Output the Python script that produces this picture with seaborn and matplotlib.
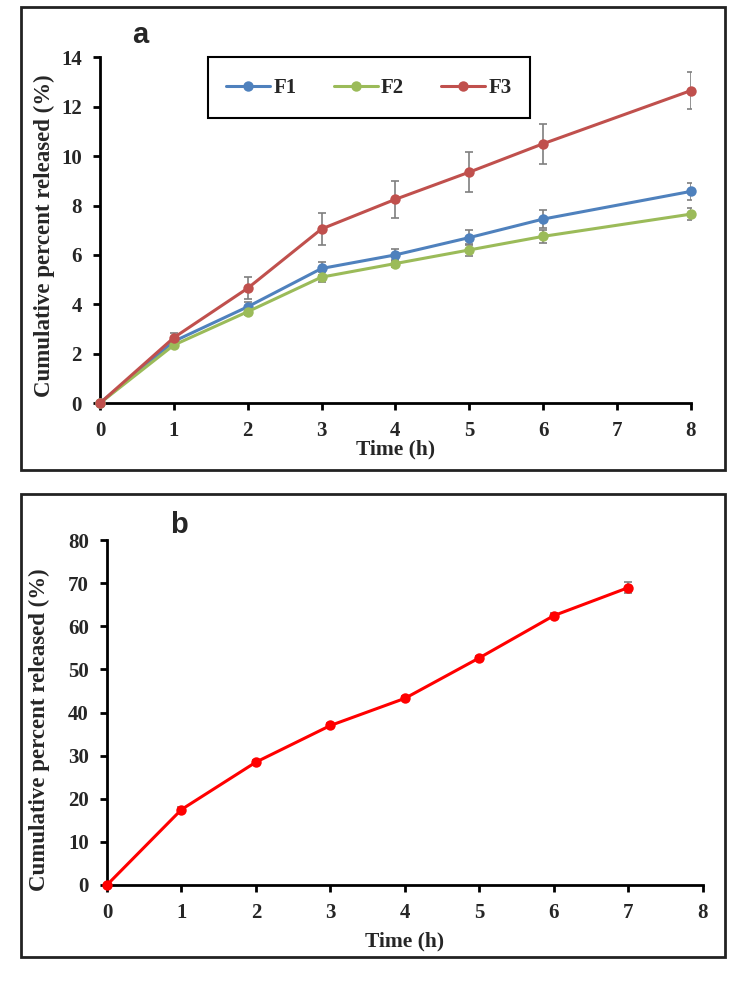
import matplotlib
matplotlib.use("Agg")
import matplotlib.pyplot as plt
from matplotlib.patches import Rectangle
import seaborn as sns
import pandas as pd

# panel a data
waktu_a = [0, 1, 2, 3, 4, 5, 6, 8]
f1 = [0, 2.5, 3.9, 5.45, 6.0, 6.7, 7.45, 8.57]
f2 = [0, 2.35, 3.7, 5.1, 5.65, 6.2, 6.75, 7.65]
f3 = [0, 2.65, 4.65, 7.05, 8.25, 9.35, 10.5, 12.65]
f1_err = [0, 0.15, 0.2, 0.25, 0.25, 0.3, 0.35, 0.35]
f2_err = [0, 0.1, 0.15, 0.2, 0.15, 0.25, 0.25, 0.25]
f3_err = [0, 0.2, 0.45, 0.65, 0.75, 0.8, 0.8, 0.75]

# panel b data
waktu_b = [0, 1, 2, 3, 4, 5, 6, 7]
rilis_b = [0, 17.5, 28.5, 37, 43.3, 52.7, 62.5, 69]
rilis_b_err = [0, 0.5, 0.5, 0.5, 0.5, 0.5, 0.5, 1.2]

formula = ["F1", "F2", "F3"]
warna = {"F1": "#4F81BD", "F2": "#9BBB59", "F3": "#C0504D"}

sns.set_style("white")
plt.rcParams["font.family"] = ["Liberation Serif", "DejaVu Serif"]
plt.rcParams["font.weight"] = "bold"

fig = plt.figure(figsize=(7.44, 9.88), dpi=100)

# kotak bingkai tiap panel
for y0 in [0.5243, 0.0314]:
    fig.patches.append(Rectangle((0.0282, y0), 0.9462, 0.4686, transform=fig.transFigure,
                                 fill=False, edgecolor="#222222", linewidth=2))

ax1 = fig.add_axes([0.1344, 0.592, 0.794, 0.350])
ax2 = fig.add_axes([0.1438, 0.1043, 0.801, 0.349])

df_a = pd.DataFrame({"Time": waktu_a * 3,
                     "Release": f1 + f2 + f3,
                     "Err": f1_err + f2_err + f3_err,
                     "Formula": ["F1"] * 8 + ["F2"] * 8 + ["F3"] * 8})

sns.lineplot(data=df_a, x="Time", y="Release", hue="Formula", palette=warna,
             marker="o", markersize=7.5, markeredgewidth=0, linewidth=2.2,
             ax=ax1, clip_on=False, zorder=3)
for f in formula:
    d = df_a[df_a["Formula"] == f]
    ax1.errorbar(d["Time"], d["Release"], yerr=d["Err"], fmt="none",
                 ecolor="#7f7f7f", elinewidth=1.2, capsize=3, capthick=1.2, zorder=2)

ax1.set_xlim(0, 8)
ax1.set_ylim(0, 14)
ax1.set_xticks(range(0, 9))
ax1.set_yticks(range(0, 15, 2))
ax1.set_xlabel("Time (h)", fontsize=15.5, fontweight="bold")
ax1.set_ylabel("Cumulative percent released (%)", fontsize=16.5, fontweight="bold")
ax1.yaxis.set_label_coords(-0.076, 0.485)
ax1.xaxis.set_label_coords(0.5, -0.105)
ax1.legend_.remove()

# legend panel a
fig.patches.append(Rectangle((0.2796, 0.8806), 0.4328, 0.0617, transform=fig.transFigure,
                             fill=False, edgecolor="black", linewidth=1.5))
h, l = ax1.get_legend_handles_labels()
fig.legend(h, l, loc="center", bbox_to_anchor=(0.496, 0.911), ncol=3, frameon=False,
           prop={"family": "Liberation Serif", "weight": "bold", "size": 15},
           handlelength=2.1, handletextpad=0.15, columnspacing=1.8)

fig.text(140 / 744, 1 - 35 / 988, "a", fontsize=21, fontweight="bold",
         family="Liberation Sans", ha="center", va="center")

# panel b
df_b = pd.DataFrame({"Time": waktu_b, "Release": rilis_b, "Err": rilis_b_err})
sns.lineplot(data=df_b, x="Time", y="Release", color="#FF0000", marker="o",
             markersize=7.5, markeredgewidth=0, linewidth=2.2, ax=ax2, clip_on=False, zorder=3)
ax2.errorbar(df_b["Time"], df_b["Release"], yerr=df_b["Err"], fmt="none",
             ecolor="#7f7f7f", elinewidth=1.2, capsize=3, capthick=1.2, zorder=2)
ax2.set_xlim(0, 8)
ax2.set_ylim(0, 80)
ax2.set_xticks(range(0, 9))
ax2.set_yticks(range(0, 81, 10))
ax2.set_xlabel("Time (h)", fontsize=15.5, fontweight="bold")
ax2.set_ylabel("Cumulative percent released (%)", fontsize=16.5, fontweight="bold")
ax2.yaxis.set_label_coords(-0.096, 0.45)
ax2.xaxis.set_label_coords(0.5, -0.135)

fig.text(179 / 744, 1 - 525 / 988, "b", fontsize=21, fontweight="bold",
         family="Liberation Sans", ha="center", va="center")

for ax in [ax1, ax2]:
    sns.despine(ax=ax)
    for s in ["left", "bottom"]:
        ax.spines[s].set_color("black")
        ax.spines[s].set_linewidth(2)
    ax.tick_params(axis="both", direction="out", length=5, width=2, color="black",
                   labelsize=15, pad=8, left=True, bottom=True)
    for t in ax.get_xticklabels() + ax.get_yticklabels():
        t.set_fontweight("bold")

fig.savefig("out.png", dpi=100, facecolor="white")
